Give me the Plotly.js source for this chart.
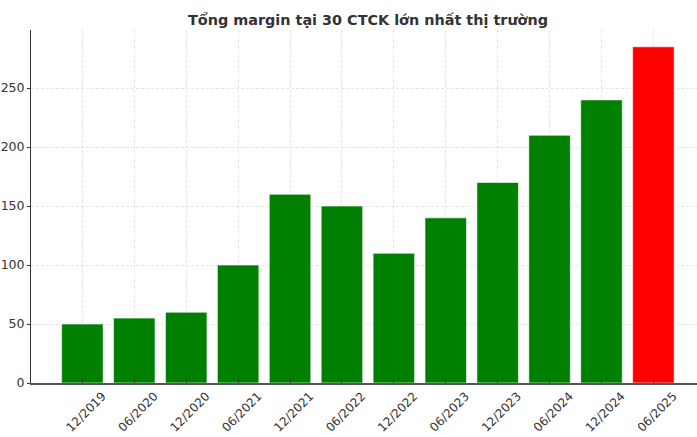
<!DOCTYPE html>
<html>
<head>
<meta charset="utf-8">
<script src="https://cdn.plot.ly/plotly-3.0.1.min.js"></script>
<style>html,body{margin:0;padding:0;background:#fff;}</style>
</head>
<body>
<div id="chart" style="width:697px;height:437px;"></div>
<script>
var periods = ["12/2019","06/2020","12/2020","06/2021","12/2021","06/2022","12/2022","06/2023","12/2023","06/2024","12/2024","06/2025"];
var margins = [50, 55, 60, 100, 160, 150, 110, 140, 170, 210, 240, 285];
var barColors = ["green","green","green","green","green","green","green","green","green","green","green","red"];
var titleText = "Tổng margin tại 30 CTCK lớn nhất thị trường";
var yTicks = [0, 50, 100, 150, 200, 250];

var xIdx = periods.map(function(_, i){ return i; });

var trace = {
  type: 'bar',
  x: xIdx,
  y: margins,
  width: 0.8,
  marker: {color: barColors, line: {color: 'rgba(255,255,255,0.6)', width: 1}},
  hoverinfo: 'x+y'
};

var layout = {
  width: 697, height: 437,
  margin: {l: 31, r: 0, t: 30, b: 54},
  paper_bgcolor: '#fff', plot_bgcolor: '#fff',
  font: {family: 'DejaVu Sans, sans-serif', size: 12, color: '#333'},
  title: {text: '<b>' + titleText + '</b>', x: 0.528, xanchor: 'center', y: 0.955, yanchor: 'middle',
          font: {family: 'DejaVu Sans, sans-serif', size: 14.4, color: '#333'}},
  bargap: 0.2,
  showlegend: false,
  xaxis: {
    range: [-0.99, 11.84],
    tickmode: 'array', tickvals: xIdx, ticktext: periods,
    tickangle: -45,
    ticklabelshift: 20,
    ticklabelstandoff: 0,
    ticks: 'inside', ticklen: 3, tickcolor: '#333',
    showline: true, linecolor: '#555', linewidth: 1.5,
    showgrid: true, gridcolor: '#d4d4d4', gridwidth: 0.6, griddash: '3px,2px',
    zeroline: false,
    tickfont: {size: 12, color: '#333'}
  },
  yaxis: {
    range: [0, 299.25],
    tickmode: 'array', tickvals: yTicks,
    ticks: 'outside', ticklen: 3, tickcolor: '#333',
    showline: true, linecolor: '#333', linewidth: 1,
    showgrid: true, gridcolor: '#d4d4d4', gridwidth: 0.6, griddash: '3px,2px',
    zeroline: false,
    tickfont: {size: 12.5, color: '#333'}
  }
};

Plotly.newPlot('chart', [trace], layout, {displayModeBar: false, staticPlot: true});
</script>
</body>
</html>
